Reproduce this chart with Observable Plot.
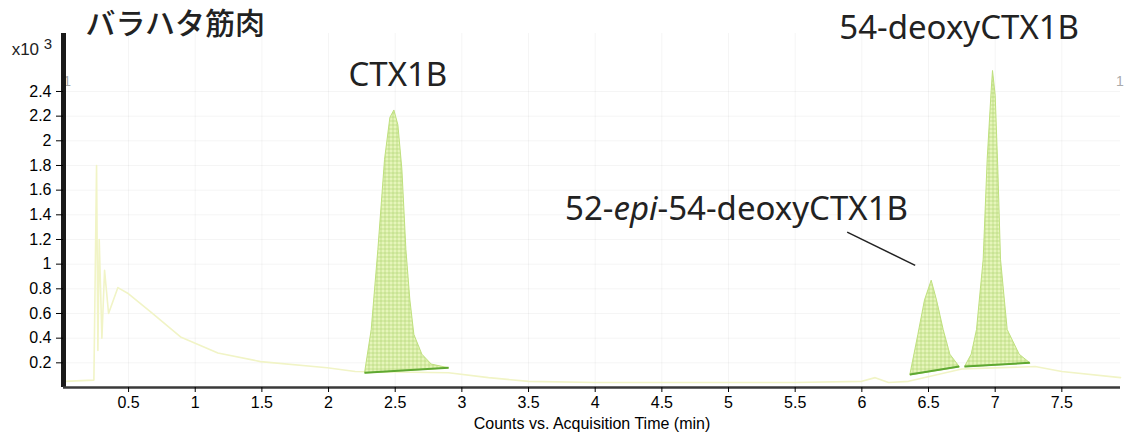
<!DOCTYPE html>
<html><head><meta charset="utf-8">
<script src="https://cdn.jsdelivr.net/npm/d3@7"></script>
<script src="https://cdn.jsdelivr.net/npm/@observablehq/plot@0.6"></script>
<style>body{margin:0;background:#fff;}</style>
</head><body><div id="chart"></div>
<script>
// ---- data ----
const xTicks = [0.5, 1, 1.5, 2, 2.5, 3, 3.5, 4, 4.5, 5, 5.5, 6, 6.5, 7, 7.5];
const yTicks = [0.2, 0.4, 0.6, 0.8, 1, 1.2, 1.4, 1.6, 1.8, 2, 2.2, 2.4];
const xDomain = [0.012, 7.94];
const yDomain = [0, 2.87];

// faint background chromatogram trace (x10^3 counts)
const traceTime  = [0.02, 0.24, 0.26, 0.27, 0.28, 0.30, 0.32, 0.35, 0.42, 0.50, 0.67, 0.89, 1.17, 1.49, 1.99, 2.20, 2.90, 3.20, 3.50, 4.00, 5.00, 5.50, 6.00, 6.10, 6.20, 6.35, 6.75, 7.30, 7.50, 7.94];
const traceValue = [0.05, 0.06, 1.80, 0.30, 1.20, 0.40, 0.95, 0.60, 0.81, 0.76, 0.61, 0.41, 0.28, 0.21, 0.16, 0.13, 0.12, 0.08, 0.05, 0.04, 0.04, 0.04, 0.05, 0.08, 0.04, 0.05, 0.15, 0.17, 0.13, 0.08];

// integrated peaks: outline points (first and last = baseline ends)
const peakId    = ["CTX1B","CTX1B","CTX1B","CTX1B","CTX1B","CTX1B","CTX1B","CTX1B","CTX1B","CTX1B","CTX1B","CTX1B","CTX1B","CTX1B",
                   "epi","epi","epi","epi","epi","epi","epi","epi",
                   "deoxy","deoxy","deoxy","deoxy","deoxy","deoxy","deoxy","deoxy","deoxy","deoxy","deoxy","deoxy","deoxy"];
const peakTime  = [2.27, 2.32, 2.37, 2.42, 2.46, 2.49, 2.52, 2.55, 2.58, 2.61, 2.64, 2.70, 2.77, 2.90,
                   6.36, 6.42, 6.47, 6.52, 6.56, 6.61, 6.66, 6.73,
                   6.77, 6.82, 6.86, 6.91, 6.94, 6.97, 6.98, 7.00, 7.02, 7.04, 7.09, 7.18, 7.26];
const peakValue = [0.12, 0.47, 1.12, 1.85, 2.19, 2.25, 2.13, 1.77, 1.12, 0.71, 0.43, 0.27, 0.19, 0.16,
                   0.105, 0.43, 0.71, 0.87, 0.71, 0.47, 0.27, 0.17,
                   0.17, 0.27, 0.47, 1.04, 1.85, 2.41, 2.57, 2.37, 1.77, 1.04, 0.47, 0.27, 0.20];

// annotations
const annoText   = ["バラハタ筋肉", "CTX1B", "54-deoxyCTX1B", "52-epi-54-deoxyCTX1B"];
const annoTime   = [0.85, 2.52, 6.73, 5.06];
const annoValue  = [2.94, 2.53, 2.915, 1.44];
const annoSize   = [30, 33, 33, 33];
const annoWeight = [500, 400, 400, 400];
const leaderTime  = [5.89, 6.40];
const leaderValue = [1.26, 0.99];
const markerText  = ["1", "1"];
const markerTime  = [0.04, 7.935];
const markerValue = [2.48, 2.48];

// ---- build tables ----
const trace = traceTime.map((t, i) => ({t, v: traceValue[i]}));
const peaks = peakTime.map((t, i) => ({id: peakId[i], t, v: peakValue[i]}));
const ids = [...new Set(peakId)];
const bases = ids.map(id => {
  const pts = peaks.filter(p => p.id === id);
  return {t1: pts[0].t, v1: pts[0].v, t2: pts[pts.length - 1].t, v2: pts[pts.length - 1].v};
});
const annos = annoText.map((s, i) => ({s, t: annoTime[i], v: annoValue[i], size: annoSize[i], weight: annoWeight[i]}));
const markers = markerText.map((s, i) => ({s, t: markerTime[i], v: markerValue[i]}));

const annoMarks = annos.map(a => Plot.text([a], {x: "t", y: "v", text: "s", fontSize: a.size, fontWeight: a.weight, fill: "#222",
  fontFamily: "'Noto Sans', 'Noto Sans CJK JP', sans-serif"}));

const plot = Plot.plot({
  width: 1126, height: 440,
  marginLeft: 63, marginRight: 6, marginTop: 33, marginBottom: 53,
  x: {domain: xDomain}, y: {domain: yDomain},
  style: {fontFamily: "'Liberation Sans', Arial, sans-serif", fontSize: "16px"},
  marks: [
    Plot.gridX(xTicks, {stroke: "#000", strokeOpacity: 0.045}),
    Plot.gridY(yTicks, {stroke: "#000", strokeOpacity: 0.045}),
    Plot.line(trace, {x: "t", y: "v", stroke: "#f1f4c6", strokeWidth: 1.6}),
    Plot.line(peaks, {x: "t", y: "v", z: "id", curve: "linear-closed", fill: "url(#mesh)", stroke: "#bfe07e", strokeWidth: 1}),
    Plot.link(bases, {x1: "t1", y1: "v1", x2: "t2", y2: "v2", stroke: "#5fa832", strokeWidth: 2}),
    Plot.link([{x1: leaderTime[0], y1: leaderValue[0], x2: leaderTime[1], y2: leaderValue[1]}], {x1: "x1", y1: "y1", x2: "x2", y2: "y2", stroke: "#222", strokeWidth: 1.5}),
    ...annoMarks,
    Plot.text(markers, {x: "t", y: "v", text: "s", fontSize: 14, fill: "#aaa"}),
    Plot.ruleX([xDomain[0]], {stroke: "#1a1a1a", strokeWidth: 5}),
    Plot.ruleY([yDomain[0]], {stroke: "#3a3a3a", strokeWidth: 2.5}),
    Plot.axisY(yTicks, {tickSize: 7, tickPadding: 5, fontSize: 16, label: null, tickFormat: d => String(d)}),
    Plot.axisX(xTicks, {tickSize: 5, tickPadding: 4, fontSize: 16, label: "Counts vs. Acquisition Time (min)", labelAnchor: "center", labelArrow: "none", labelOffset: 41, tickFormat: d => String(d)}),
    Plot.text(["x10 3"], {x: -0.225, y: 2.74, text: d => d, fontSize: 17, textAnchor: "middle", fill: "#222"})
  ]
});

// pattern for the integrated-peak mesh fill
const ns = "http://www.w3.org/2000/svg";
const defs = document.createElementNS(ns, "defs");
const pat = document.createElementNS(ns, "pattern");
pat.setAttribute("id", "mesh"); pat.setAttribute("width", "4"); pat.setAttribute("height", "4");
pat.setAttribute("patternUnits", "userSpaceOnUse");
const bg = document.createElementNS(ns, "rect");
bg.setAttribute("width", "4"); bg.setAttribute("height", "4"); bg.setAttribute("fill", "#e6f5ba");
const grid = document.createElementNS(ns, "path");
grid.setAttribute("d", "M0 0.5H4M0.5 0V4"); grid.setAttribute("stroke", "#add36e"); grid.setAttribute("stroke-width", "0.6");
pat.appendChild(bg); pat.appendChild(grid); defs.appendChild(pat);
plot.insertBefore(defs, plot.firstChild);

// rich text: italic "epi" and superscript "3"
plot.querySelectorAll("text").forEach(el => {
  if (el.textContent === "52-epi-54-deoxyCTX1B") {
    el.textContent = "52-";
    const it = document.createElementNS(ns, "tspan");
    it.setAttribute("font-style", "italic"); it.textContent = "epi";
    el.appendChild(it);
    el.appendChild(document.createTextNode("-54-deoxyCTX1B"));
  } else if (el.textContent === "x10 3") {
    el.textContent = "x10 ";
    const sup = document.createElementNS(ns, "tspan");
    sup.setAttribute("dy", "-6"); sup.setAttribute("font-size", "15"); sup.textContent = "3";
    el.appendChild(sup);
  }
});

document.getElementById("chart").appendChild(plot);
</script>
</body></html>
